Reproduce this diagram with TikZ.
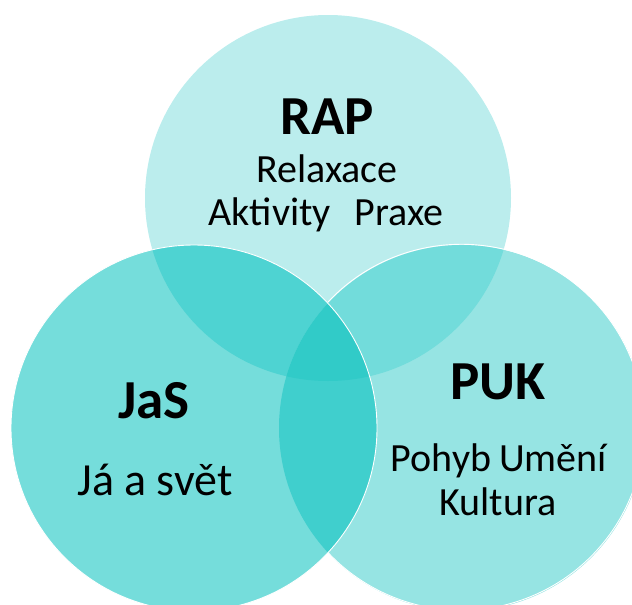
\documentclass[tikz,border=0pt]{standalone}
\usepackage{fontspec}
\setmainfont{Carlito}

\definecolor{rapfill}{HTML}{BBEDED}
\definecolor{pukfill}{HTML}{96E4E3}
\definecolor{jasfill}{HTML}{75DDDB}
\definecolor{rapjas}{HTML}{4ED3D2}
\definecolor{rappuk}{HTML}{72DCDB}
\definecolor{jaspuk}{HTML}{40CFCD}
\definecolor{allthree}{HTML}{31CBC8}

% the three circles
\newcommand\rapcircle{(328,198) circle[radius=183pt]}
\newcommand\jascircle{(194,428) circle[radius=183pt]}
\newcommand\pukcircle{(462,428) circle[radius=183pt]}

\begin{document}
\begin{tikzpicture}[x=1pt,y=-1pt,
    title/.style={font=\fontsize{55}{55}\selectfont\bfseries, anchor=base, inner sep=0pt},
    words/.style={font=\fontsize{40}{46}\selectfont, anchor=base, inner sep=0pt}]
    \useasboundingbox (0,0) rectangle (632,605);
    \clip (0,0) rectangle (632,605);

    \fill[rapfill] \rapcircle;
    \fill[pukfill] \pukcircle;
    \fill[jasfill] \jascircle;
    \begin{scope}
      \clip \rapcircle;
      \fill[rapjas] \jascircle;
      \fill[rappuk] \pukcircle;
    \end{scope}
    \begin{scope}
      \clip \jascircle;
      \fill[jaspuk] \pukcircle;
      \clip \rapcircle;
      \fill[allthree] \pukcircle;
    \end{scope}
    % white rims
    \draw[white, line width=0.9pt] (328,302) arc[start angle=136.8, end angle=-136.8, radius=183pt];
    \draw[white, line width=0.9pt] \jascircle;

    \node(rap)[title] at (327,134) {RAP};
    \node(relax)[words] at (327,182) {Relaxace};
    \node(akt)[words] at (326,225) {Aktivity\hskip 24pt Praxe};
    \node(jas)[title] at (154,418) {JaS};
    \node(svet)[words, font=\fontsize{46}{50}\selectfont] at (155,495) {Já a svět};
    \node(puk)[title] at (498,399) {PUK};
    \node(pohyb)[words] at (499,471) {Pohyb\hskip 8pt Umění};
    \node(kult)[words] at (498,515) {Kultura};
\end{tikzpicture}
\end{document}
